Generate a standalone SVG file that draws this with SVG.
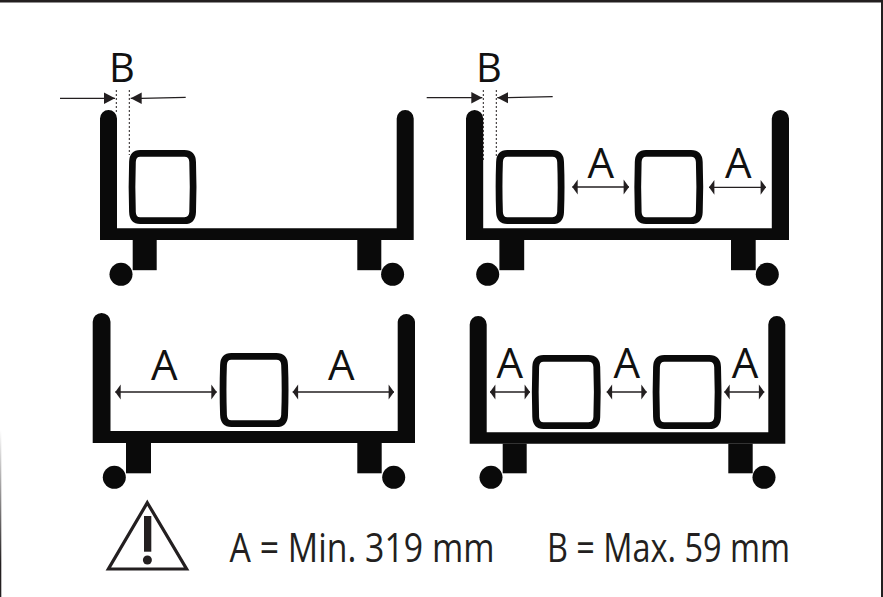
<svg xmlns="http://www.w3.org/2000/svg" width="883" height="597" viewBox="0 0 883 597">
<style>
.k{fill:#0a0a0a}
.box{fill:none;stroke:#0a0a0a;stroke-width:6.800}
.t{font-family:"Open Sans","Noto Sans",sans-serif;fill:#111;text-anchor:middle}
.l{font-size:42px}
.b{font-size:40px}
.f{font-size:39.500px;text-anchor:start;fill:#231f20}
.dim{stroke:#231f20;stroke-width:1.300;fill:none}
.dbl{marker-start:url(#dh);marker-end:url(#dh)}
.one{marker-end:url(#sh)}
.dot{stroke:#231f20;stroke-width:1;stroke-dasharray:2 2;fill:none}
</style>
<defs>
<linearGradient id="edge" x1="0" y1="0" x2="0" y2="1"><stop offset="0" stop-color="#231f20" stop-opacity="0"/><stop offset="0.8" stop-color="#231f20"/></linearGradient>
<marker id="dh" markerUnits="userSpaceOnUse" markerWidth="8" markerHeight="16" refX="6" refY="8" orient="auto-start-reverse"><path d="M6 8L.6 .6V15.400Z" fill="#231f20"/></marker>
<marker id="sh" markerUnits="userSpaceOnUse" markerWidth="12" markerHeight="12" refX="11" refY="6" orient="auto"><path d="M11 6L0 .3V11.700Z" fill="#231f20"/></marker>
<path id="bx" d="M11 3.400H56Q64 3.400 64.300 12Q65.300 37 64.300 62Q64 70.600 56 70.600H11Q3.500 70.600 3.200 62Q2.300 37 3.200 12Q3.500 3.400 11 3.400Z"/>
</defs>
<rect width="883" height="597" fill="#fff"/>
<g id="frame">
<rect width="883" height="2.500" fill="#231f20"/>
<rect x="881" width="2" height="597" fill="#231f20"/>
<rect y="430" width="1.300" height="167" fill="url(#edge)"/>
</g>
<g id="cart-1">
<path class="k" d="M100 118.500a8.500 8.500 0 0 1 17 0V228.300H396.700V118.500a8.500 8.500 0 0 1 17 0V240H100Z"/>
<rect class="k" x="132.700" y="240" width="24" height="30.200"/>
<rect class="k" x="357.300" y="240" width="24" height="30.200"/>
<circle class="k" cx="121" cy="274.300" r="11.500"/>
<circle class="k" cx="392.600" cy="274.300" r="11.500"/>
<use href="#bx" class="box" transform="translate(129.300 150) scale(.985 1)"/>
</g>
<g id="cart-2">
<path class="k" d="M466 118.500a8.500 8.500 0 0 1 17.200 0V228.300H771.800V118.500a8.500 8.500 0 0 1 17.200 0V240H466Z"/>
<rect class="k" x="499.400" y="240" width="24.800" height="30.200"/>
<rect class="k" x="731" y="240" width="24.700" height="30.200"/>
<circle class="k" cx="487.700" cy="274.300" r="11.500"/>
<circle class="k" cx="767.300" cy="274.300" r="11.500"/>
<use href="#bx" class="box" x="496.300" y="150"/>
<use href="#bx" class="box" x="635" y="150"/>
</g>
<g id="cart-3">
<path class="k" d="M92.700 321.800a8.800 8.800 0 0 1 17.800 0V431H397.700V321.800a8.700 8.700 0 0 1 17.300 0V443H92.700Z"/>
<rect class="k" x="126" y="443" width="25" height="30.300"/>
<rect class="k" x="357.300" y="443" width="24.400" height="30.300"/>
<circle class="k" cx="114.300" cy="477.300" r="11.500"/>
<circle class="k" cx="393.700" cy="477.300" r="11.500"/>
<use href="#bx" class="box" x="220.300" y="353"/>
</g>
<g id="cart-4">
<path class="k" d="M469.700 324.500a8.500 8.500 0 0 1 17 0V432.300H768.300V324.500a8.500 8.500 0 0 1 17 0V443.700H469.700Z"/>
<rect class="k" x="502.700" y="443.700" width="24" height="29.600"/>
<rect class="k" x="728.300" y="443.700" width="24.400" height="29.600"/>
<circle class="k" cx="491" cy="477.300" r="11.500"/>
<circle class="k" cx="764" cy="477.300" r="11.500"/>
<use href="#bx" class="box" x="532.500" y="355"/>
<use href="#bx" class="box" x="653.300" y="355"/>
</g>
<g id="connectors">
<path class="dim one" d="M60 98.300H115"/>
<path class="dim one" d="M185.700 97.300 141 98.300H130.700"/>
<path class="dot" d="M116.300 90V112M129.300 90V155"/>
<path class="dim one" d="M426.700 97.700H482.300"/>
<path class="dim one" d="M552.700 96.700 508 97.700H497.300"/>
<path class="dot" d="M483.300 90V160M496.300 90V157"/>
<path class="dim dbl" d="M572.300 187H629"/>
<path class="dim dbl" d="M709 187.300H766"/>
<path class="dim dbl" d="M115.300 392H216.700"/>
<path class="dim dbl" d="M292.700 392H394"/>
<path class="dim dbl" d="M490 392H530"/>
<path class="dim dbl" d="M606.700 392H646.700"/>
<path class="dim dbl" d="M724.300 392H764.300"/>
</g>
<g id="labels">
<text class="t b" x="122" y="81.700">B</text>
<text class="t b" x="489" y="81.700">B</text>
<text class="t l" x="600.700" y="178.300">A</text>
<text class="t l" x="738.300" y="178.300">A</text>
<text class="t l" x="164.300" y="380.300">A</text>
<text class="t l" x="341.200" y="380.300">A</text>
<text class="t l" x="509.700" y="377.700">A</text>
<text class="t l" x="626.700" y="377.700">A</text>
<text class="t l" x="745" y="377.700">A</text>
<text class="t f" x="229.500" y="561.800" textLength="265" lengthAdjust="spacingAndGlyphs">A = Min. 319 mm</text>
<text class="t f" x="547" y="561.800" textLength="243" lengthAdjust="spacingAndGlyphs">B = Max. 59 mm</text>
</g>
<g id="warning">
<path d="M147.300 502.700 186.600 569H108.400Z" fill="none" stroke="#231f20" stroke-width="3.200"/>
<rect x="144" y="516" width="7.300" height="35.700" fill="#231f20"/>
<circle cx="147.400" cy="560" r="4.500" fill="#231f20"/>
</g>
</svg>
